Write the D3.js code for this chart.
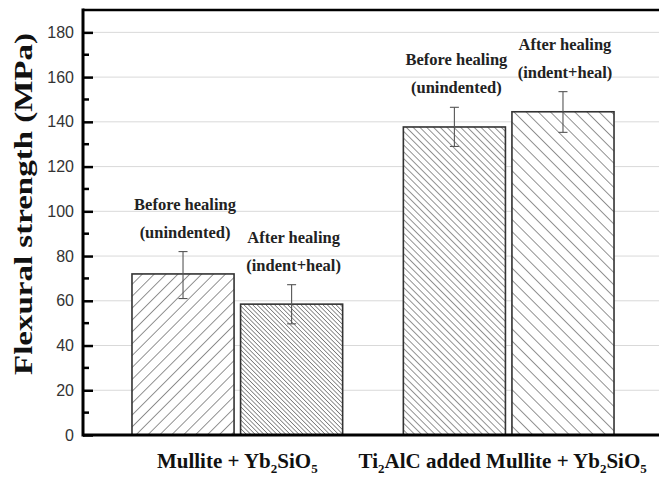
<!DOCTYPE html>
<html>
<head>
<meta charset="utf-8">
<script src="https://cdn.jsdelivr.net/npm/d3@7"></script>
<style>
  html, body { margin: 0; padding: 0; background: #fff; }
  svg { display: block; }
</style>
</head>
<body>
<svg id="chart" width="659" height="483"></svg>
<script>
// ---------------- data ----------------
const groups = ["Mullite + Yb2SiO5", "Ti2AlC added Mullite + Yb2SiO5"];
const conditions = ["before", "after"];
const conditionLine1 = ["Before healing", "After healing"];
const conditionLine2 = ["(unindented)", "(indent+heal)"];
// flexural strength (MPa): [group][condition]
const strengthMullite = [72, 58.5];
const strengthTi2AlC = [137.7, 144.5];
// error bars (low, high)
const errLowMullite = [61, 49.7];
const errHighMullite = [82, 67.2];
const errLowTi2AlC = [129, 135.3];
const errHighTi2AlC = [146.5, 153.5];
const yTicks = [0, 20, 40, 60, 80, 100, 120, 140, 160, 180];
const yMinorTicks = [10, 30, 50, 70, 90, 110, 130, 150, 170];
const yDomain = [0, 190];

(function () {
const bars = [];
groups.forEach((g, gi) => {
  const vals = gi === 0 ? strengthMullite : strengthTi2AlC;
  const lo = gi === 0 ? errLowMullite : errLowTi2AlC;
  const hi = gi === 0 ? errHighMullite : errHighTi2AlC;
  conditions.forEach((c, ci) => {
    bars.push({ group: g, gi, cond: c, ci, value: vals[ci], lo: lo[ci], hi: hi[ci],
      idx: gi * 2 + ci });
  });
});

// ---------------- layout ----------------
const svg = d3.select("#chart");
const mLeft = 83, mTop = 10, mBottom = 435, mRight = 663;

const y = d3.scaleLinear().domain(yDomain).range([mBottom, mTop]);
const x0 = d3.scaleBand().domain(groups).range([mLeft, mRight])
  .paddingInner(0.2237).paddingOuter(0.1805);
const x1 = d3.scaleBand().domain(conditions).range([0, x0.bandwidth()])
  .paddingInner(0.06);

// hatch patterns: [angle, spacing]
const hatch = [
  { rot: 45, s: 8.4 },
  { rot: -45, s: 3.1 },
  { rot: -45, s: 4.8 },
  { rot: -45, s: 8.6 }
];
const defs = svg.append("defs");
hatch.forEach((h, i) => {
  const p = defs.append("pattern")
    .attr("id", "hatch" + i)
    .attr("patternUnits", "userSpaceOnUse")
    .attr("width", h.s).attr("height", h.s)
    .attr("patternTransform", `rotate(${h.rot})`);
  p.append("rect").attr("width", h.s).attr("height", h.s).attr("fill", "#fff");
  p.append("line").attr("x1", 0).attr("y1", -1).attr("x2", 0).attr("y2", h.s + 1)
    .attr("stroke", "#3a3a3a").attr("stroke-width", 1.1);
});

// gridlines
svg.append("g").selectAll("line").data(yTicks.filter(d => d > 0)).join("line")
  .attr("x1", mLeft).attr("x2", 659)
  .attr("y1", d => y(d)).attr("y2", d => y(d))
  .attr("stroke", "#d9d9d9").attr("stroke-width", 1);

// bars
const barG = svg.append("g");
barG.selectAll("rect").data(bars).join("rect")
  .attr("x", d => x0(d.group) + x1(d.cond))
  .attr("y", d => y(d.value))
  .attr("width", x1.bandwidth())
  .attr("height", d => y(0) - y(d.value))
  .attr("fill", d => `url(#hatch${d.idx})`)
  .attr("stroke", "#333").attr("stroke-width", 1.6);

// error bars
const errG = svg.append("g").attr("stroke", "#555").attr("stroke-width", 1.1);
bars.forEach(d => {
  const cx = x0(d.group) + x1(d.cond) + x1.bandwidth() / 2;
  errG.append("line").attr("x1", cx).attr("x2", cx).attr("y1", y(d.lo)).attr("y2", y(d.hi));
  errG.append("line").attr("x1", cx - 4.5).attr("x2", cx + 4.5).attr("y1", y(d.hi)).attr("y2", y(d.hi));
  errG.append("line").attr("x1", cx - 4.5).attr("x2", cx + 4.5).attr("y1", y(d.lo)).attr("y2", y(d.lo));
});

// annotations above each bar
const annG = svg.append("g")
  .attr("font-family", "'Liberation Serif', 'Times New Roman', serif")
  .attr("font-weight", "bold").attr("font-size", 16.5).attr("fill", "#222")
  .attr("text-anchor", "middle");
bars.forEach(d => {
  const cx = x0(d.group) + x1(d.cond) + x1.bandwidth() / 2 + 2;
  const base = y(d.hi) - 14;
  annG.append("text").attr("x", cx).attr("y", base - 28).text(conditionLine1[d.ci]);
  annG.append("text").attr("x", cx).attr("y", base).text(conditionLine2[d.ci]);
});

// axes frame
svg.append("line").attr("x1", mLeft).attr("x2", mLeft).attr("y1", mTop - 1.5).attr("y2", mBottom + 1.5)
  .attr("stroke", "#000").attr("stroke-width", 3);
svg.append("line").attr("x1", mLeft).attr("x2", 659).attr("y1", mTop).attr("y2", mTop)
  .attr("stroke", "#000").attr("stroke-width", 2.5);
svg.append("line").attr("x1", mLeft).attr("x2", 659).attr("y1", mBottom).attr("y2", mBottom)
  .attr("stroke", "#000").attr("stroke-width", 3);

// y axis ticks (inward)
const yAxis = d3.axisLeft(y).tickValues(yTicks).tickSize(-10).tickPadding(20).tickFormat(d3.format("d"));
const ax = svg.append("g").attr("transform", `translate(${mLeft},0)`).call(yAxis);
ax.select(".domain").remove();
ax.selectAll(".tick line").attr("stroke", "#000").attr("stroke-width", 2.5);
ax.selectAll(".tick text")
  .attr("font-family", "'Liberation Sans', Arial, sans-serif")
  .attr("font-size", 16).attr("fill", "#333").attr("x", -9);
svg.append("g").selectAll("line").data(yMinorTicks).join("line")
  .attr("x1", mLeft).attr("x2", mLeft + 6)
  .attr("y1", d => y(d)).attr("y2", d => y(d))
  .attr("stroke", "#000").attr("stroke-width", 2.5);

// y axis title
svg.append("text")
  .attr("transform", `translate(32,204) rotate(-90)`)
  .attr("text-anchor", "middle")
  .attr("font-family", "'Liberation Serif', 'Times New Roman', serif")
  .attr("font-weight", "bold").attr("font-size", 25).attr("fill", "#111")
  .attr("textLength", 342).attr("lengthAdjust", "spacingAndGlyphs")
  .text("Flexural strength (MPa)");

// category labels with subscripts
const catParts = [
  [["Mullite + Yb", 0], ["2", 1], ["SiO", 0], ["5", 1]],
  [["Ti", 0], ["2", 1], ["AlC added Mullite + Yb", 0], ["2", 1], ["SiO", 0], ["5", 1]]
];
groups.forEach((g, gi) => {
  const t = svg.append("text")
    .attr("x", x0(g) + x0.bandwidth() / 2 - (gi === 1 ? 6 : 0)).attr("y", 468)
    .attr("text-anchor", "middle")
    .attr("font-family", "'Liberation Serif', 'Times New Roman', serif")
    .attr("font-weight", "bold").attr("font-size", 21).attr("fill", "#111");
  let prevSub = 0;
  catParts[gi].forEach(([s, sub]) => {
    const ts = t.append("tspan").text(s);
    if (sub) ts.attr("font-size", 13);
    if (sub !== prevSub) ts.attr("dy", sub ? 5 : -5);
    prevSub = sub;
  });
});
})();
</script>
</body>
</html>
